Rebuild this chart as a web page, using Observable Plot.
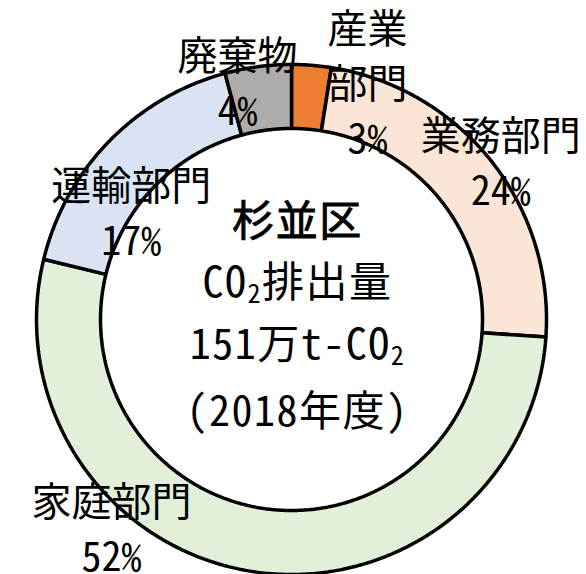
<!DOCTYPE html>
<html><head><meta charset="utf-8">
<script src="https://cdn.jsdelivr.net/npm/d3@7"></script>
<script src="https://cdn.jsdelivr.net/npm/@observablehq/plot@0.6"></script>
<style>
html,body{margin:0;padding:0;background:#fff;}
svg text{font-feature-settings:"hwid" 1;}
</style>
</head><body><div id="chart"></div>
<script>
// ---- data ----
const categories = ["産業部門", "業務部門", "家庭部門", "運輸部門", "廃棄物"];
const displayNames = ["産業\n部門", "業務部門", "家庭部門", "運輸部門", "廃棄物"];
const shares = [2.5, 23.6, 52.7, 17.0, 4.2];
const pctLabels = ["3%", "24%", "52%", "17%", "4%"];
const sliceColors = ["#ED7D31", "#FBE5D6", "#E2F0D9", "#DAE3F3", "#AFABAB"];
const centerLines = ["杉並区", "CO₂排出量", "151万t-CO₂", "(2018年度)"];

// ---- layout (not data) ----
const W = 586, H = 574;
const cx = 291, cy = 319;          // ring centre in pixels
const rOuter = 255, rInner = 191;   // ring radii in pixels
// label block anchors: [angle in degrees clockwise from top, radius in px]
const labelAt = {
  "産業部門": [17.9, 247],
  "業務部門": [53.3, 261],
  "家庭部門": [-139.5, 277],
  "運輸部門": [-56.6, 192],
  "廃棄物":   [-12.9, 242]
};
const FONT = "'Noto Sans CJK JP', sans-serif";

// ---- build ring polygons from the shares ----
const pie = d3.pie().sort(null).value(d => d)(shares);
const ring = [];
pie.forEach((p, i) => {
  const a0 = p.startAngle, a1 = p.endAngle;
  const n = Math.max(4, Math.ceil((a1 - a0) / (Math.PI / 360)));
  const pts = [];
  for (let k = 0; k <= n; k++) {
    const a = a0 + (a1 - a0) * k / n;
    pts.push([rOuter * Math.sin(a), rOuter * Math.cos(a)]);
  }
  for (let k = n; k >= 0; k--) {
    const a = a0 + (a1 - a0) * k / n;
    pts.push([rInner * Math.sin(a), rInner * Math.cos(a)]);
  }
  pts.push(pts[0]);
  pts.forEach(([x, y]) => ring.push({key: categories[i], color: sliceColors[i], x, y}));
});

const labelRows = categories.map((c, i) => {
  const [deg, r] = labelAt[c];
  const a = deg * Math.PI / 180;
  return {x: r * Math.sin(a), y: r * Math.cos(a), text: displayNames[i] + "\n" + pctLabels[i]};
});

const chart = Plot.plot({
  width: W, height: H, margin: 0,
  x: {domain: [-cx, W - cx], axis: null},
  y: {domain: [cy - H, cy], axis: null},
  color: {type: "identity"},
  style: {background: "white", fontFamily: FONT},
  marks: [
    Plot.line(ring, {x: "x", y: "y", z: "key", fill: "color", stroke: "black",
                     strokeWidth: 3.5, strokeLinejoin: "miter", curve: "linear"}),
    Plot.text(labelRows, {x: "x", y: "y", text: "text", fontSize: 40, lineHeight: 1.38,
                          dy: -4, fill: "black", fontFamily: FONT}),
    Plot.text([centerLines.join("\n")], {x: () => 0, y: () => 0, text: d => d, dx: 6, dy: -11,
                          fontSize: 42, lineHeight: 1.46, fill: "black",
                          fontFamily: FONT, className: "center-text"})
  ]
});
document.getElementById("chart").appendChild(chart);

// centre title: first line semi-bold, slight letter spacing
chart.querySelectorAll(".center-text text").forEach(t => {
  t.setAttribute("letter-spacing", "1.5");
  const first = t.querySelector("tspan");
  if (first) {
    first.setAttribute("stroke", "black");
    first.setAttribute("stroke-width", "0.9");
  }
});
// typeset the subscript 2 of CO₂ as a lowered, smaller digit
chart.querySelectorAll("tspan, text").forEach(el => {
  const nodes = Array.from(el.childNodes).filter(n => n.nodeType === 3 && n.nodeValue.includes("₂"));
  nodes.forEach(n => {
    const parts = n.nodeValue.split("₂");
    const frag = document.createDocumentFragment();
    parts.forEach((part, k) => {
      if (k > 0) {
        const sub = document.createElementNS("http://www.w3.org/2000/svg", "tspan");
        sub.setAttribute("font-size", "0.62em");
        sub.setAttribute("dy", "6");
        sub.textContent = "2";
        frag.appendChild(sub);
        const rest = document.createElementNS("http://www.w3.org/2000/svg", "tspan");
        rest.setAttribute("dy", "-6");
        rest.textContent = part;
        frag.appendChild(rest);
      } else {
        frag.appendChild(document.createTextNode(part));
      }
    });
    el.replaceChild(frag, n);
  });
});
</script>
</body></html>
